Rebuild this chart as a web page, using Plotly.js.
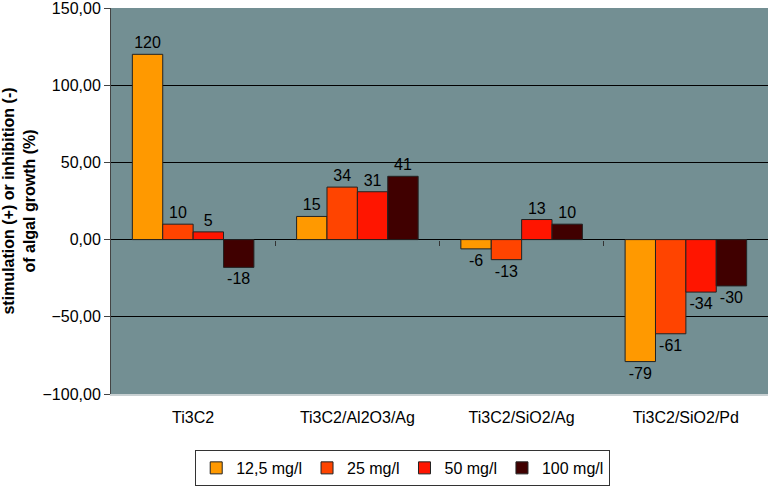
<!DOCTYPE html>
<html>
<head>
<meta charset="utf-8">
<script src="https://cdn.plot.ly/plotly-3.0.1.min.js"></script>
<style>
  html, body { margin: 0; padding: 0; background: #fff; }
  #chart { width: 776px; height: 494px; }
</style>
</head>
<body>
<div id="chart"></div>
<script>
var materials = ['Ti3C2', 'Ti3C2/Al2O3/Ag', 'Ti3C2/SiO2/Ag', 'Ti3C2/SiO2/Pd'];
var doses = ['12,5 mg/l', '25 mg/l', '50 mg/l', '100 mg/l'];
var dose12 = [120, 15, -6, -79];
var dose25 = [10, 34, -13, -61];
var dose50 = [5, 31, 13, -34];
var dose100 = [-18, 41, 10, -30];
var yTicks = [-100, -50, 0, 50, 100, 150];
var doseColors = ['#FF9900', '#FF4400', '#FF1500', '#400000'];

var series = [dose12, dose25, dose50, dose100];

var data = series.map(function (vals, i) {
  return {
    type: 'bar',
    name: doses[i],
    x: materials,
    y: vals,
    text: vals.map(String),
    textposition: 'outside',
    cliponaxis: false,
    textfont: { family: 'Liberation Sans, Arial, sans-serif', size: 16, color: '#000' },
    marker: { color: doseColors[i], line: { color: '#222', width: 1 } },
    hoverinfo: 'x+y'
  };
});

// dummy trace so the tick marks on the zero line get drawn
data.push({
  type: 'scatter', x: [0], y: [0], xaxis: 'x2', yaxis: 'y',
  mode: 'markers', marker: { opacity: 0 }, showlegend: false, hoverinfo: 'skip'
});

var layout = {
  width: 776,
  height: 494,
  margin: { l: 111, r: 8, t: 8, b: 96 },
  paper_bgcolor: '#fff',
  plot_bgcolor: '#738F93',
  font: { family: 'Liberation Sans, Arial, sans-serif', size: 16, color: '#000' },
  separators: ',.',
  barmode: 'group',
  bargap: 0.26,
  bargroupgap: 0,
  xaxis: {
    type: 'category',
    showgrid: false,
    zeroline: false,
    showline: true,
    linecolor: '#c8d0d2',
    linewidth: 2,
    ticks: '',
    ticklabelstandoff: 8,
    tickfont: { size: 16 },
    fixedrange: true
  },
  xaxis2: {
    overlaying: 'x',
    anchor: 'free',
    position: 0.4,
    range: [-0.5, 3.5],
    tickvals: [0.5, 1.5, 2.5],
    ticks: 'outside',
    ticklen: 5,
    tickcolor: '#333',
    showticklabels: false,
    showgrid: false,
    zeroline: false,
    showline: false
  },
  yaxis: {
    range: [-100, 150],
    tickmode: 'array',
    tickvals: yTicks,
    tickformat: '.2f',
    ticklabeloverflow: 'allow',
    showgrid: true,
    gridcolor: '#000',
    gridwidth: 1,
    zeroline: true,
    zerolinecolor: '#000',
    zerolinewidth: 1,
    showline: true,
    linecolor: '#444',
    linewidth: 1,
    ticks: 'outside',
    ticklen: 6,
    tickcolor: '#444',
    tickfont: { size: 16 },
    title: {
      text: '<b>stimulation (+) or inhibition (-)<br>of algal growth (%)</b>',
      font: { size: 16 },
      standoff: 12
    }
  },
  legend: {
    orientation: 'h',
    x: 0.444,
    xanchor: 'center',
    y: -0.145,
    yanchor: 'top',
    bgcolor: '#fff',
    bordercolor: '#333',
    borderwidth: 1,
    font: { size: 16 },
    itemwidth: 30,
    traceorder: 'normal'
  },
  showlegend: true
};

Plotly.newPlot('chart', data, layout, { displayModeBar: false, staticPlot: true });
</script>
</body>
</html>
